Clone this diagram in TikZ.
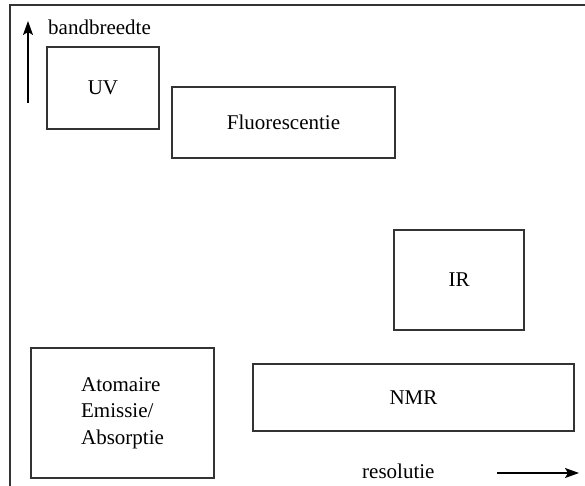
\documentclass[tikz,border=0pt]{standalone}
\usepackage{fontspec}
\setmainfont{Liberation Serif}
\usetikzlibrary{arrows.meta}
\begin{document}
\begin{tikzpicture}[x=1pt,y=-1pt,
  box/.style={draw=black!80,line width=1.3pt,inner sep=0pt,font=\fontsize{21}{26.5}\selectfont},
  lbl/.style={inner sep=0pt,font=\fontsize{21}{26}\selectfont},
  axis/.style={line width=1.5pt,-{Stealth[length=14pt,width=10pt,inset=3pt]}}]
\useasboundingbox (0,0) rectangle (585,486);
\coordinate (f0) at (585,5);
\coordinate (f1) at (10,5);
\coordinate (f2) at (10,486);
\draw[black!80,line width=1.6pt] (f0) -- (f1) -- (f2);
\node[box,minimum width=112pt,minimum height=82pt] (uv) at (103,88) {UV};
\node[box,minimum width=223pt,minimum height=71pt] (fl) at (283.5,122.5) {Fluorescentie};
\node[box,minimum width=130pt,minimum height=100pt] (ir) at (459,280) {IR};
\node[box,minimum width=183pt,minimum height=130pt,align=left] (at) at (122.5,413) {Atomaire\\Emissie/\\Absorptie};
\node[box,minimum width=321pt,minimum height=67pt] (nmr) at (413.5,397.5) {NMR};
\node[lbl,anchor=base west] (bw) at (48,35) {bandbreedte};
\node[lbl,anchor=base west] (res) at (362,478) {resolutie};
\coordinate (a0) at (28,103);
\coordinate (a1) at (28,21);
\draw[axis] (a0) -- (a1);
\coordinate (b0) at (497,473);
\coordinate (b1) at (579,473);
\draw[axis] (b0) -- (b1);
\end{tikzpicture}
\end{document}
